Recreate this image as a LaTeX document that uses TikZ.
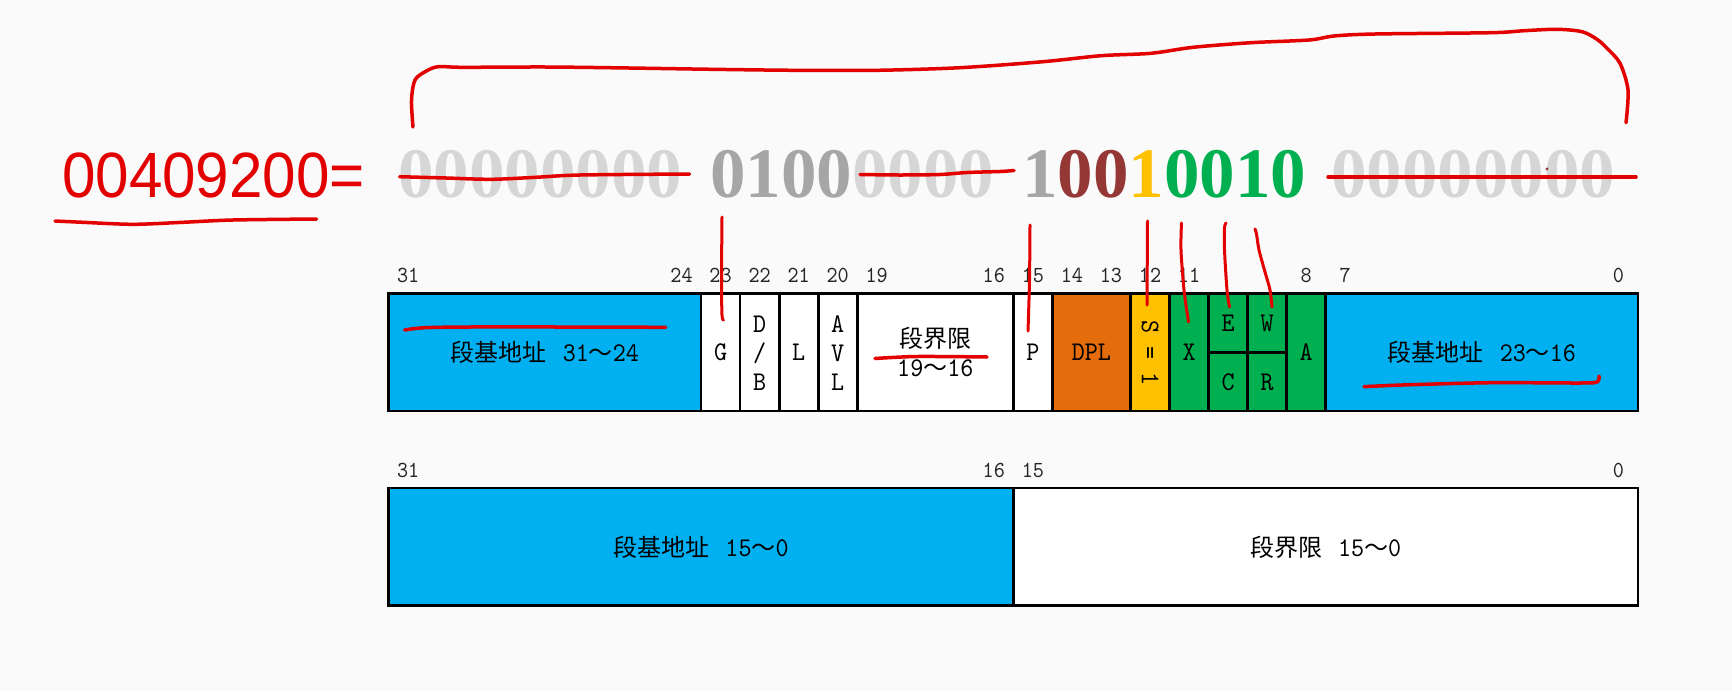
\documentclass[tikz,border=0pt]{standalone}
\usepackage{fontspec}
\setmainfont{Liberation Serif}
\newfontfamily\cjk{Noto Sans CJK SC}
\newfontfamily\cellf[FakeStretch=0.92]{lmmono10-regular.otf}
\newfontfamily\hexf[FakeStretch=0.94]{Liberation Sans}
\newcommand\cjkfont{\cjk\fontsize{24}{30}\selectfont}
\newcommand\numfont{\cellf\fontsize{27}{30}\selectfont}
\newcommand\bitrange[2]{{\numfont #1}{\cjkfont ～}{\numfont #2}}

\definecolor{paper}{HTML}{FAFAFA}
\definecolor{segblue}{HTML}{00B0F0}
\definecolor{dplorange}{HTML}{E46C0A}
\definecolor{sysyellow}{HTML}{FFC000}
\definecolor{typegreen}{HTML}{00B050}
\definecolor{pengray}{HTML}{A6A6A6}
\definecolor{offgray}{HTML}{D6D6D6}
\definecolor{dplred}{HTML}{953735}
\definecolor{inkred}{HTML}{E20000}

\tikzstyle{field} = [draw=black, line width=2.8pt]
\tikzstyle{bitno} = [anchor=base, inner sep=0pt, text=black!85, font=\cellf\fontsize{23}{23}\selectfont]
\tikzstyle{flag} = [inner sep=0pt, align=center, font=\cellf\fontsize{27}{29}\selectfont]
\tikzstyle{bits} = [anchor=base west, inner sep=0pt, font=\bfseries\fontsize{71}{71}\selectfont]
\tikzstyle{ink} = [draw=inkred, line width=3.5pt, line cap=round, line join=round]

\begin{document}
\begin{tikzpicture}[x=1pt, y=-1pt]
\useasboundingbox (0,0) rectangle (1732,691);
\fill[paper] (0,0) rectangle (1732,691);

% the value and its 32 bits
\node[anchor=base west, inner sep=0pt, text=inkred, font=\hexf\fontsize{64}{64}\selectfont] (hexval) at (62,197) {00409200=};
\node[bits, text=offgray] (bitsA) at (398,197) {00000000};
\node[bits] (bitsB) at (710,197) {\textcolor{pengray}{0100}\textcolor{offgray}{0000}};
\node[bits] (bitsC) at (1022,197) {\textcolor{pengray}{1}\textcolor{dplred}{00}\textcolor{sysyellow}{1}\textcolor{typegreen}{0010}};
\node[bits, text=offgray] (bitsD) at (1331,197) {00000000};

% descriptor, one unit per bit
\begin{scope}[x=-39.04pt, shift={(1638pt,0pt)}]
\filldraw[field, fill=segblue] (32,293.8) rectangle (24,411);
\filldraw[field, fill=white] (24,293.8) rectangle (23,411);
\filldraw[field, fill=white] (23,293.8) rectangle (22,411);
\filldraw[field, fill=white] (22,293.8) rectangle (21,411);
\filldraw[field, fill=white] (21,293.8) rectangle (20,411);
\filldraw[field, fill=white] (20,293.8) rectangle (16,411);
\filldraw[field, fill=white] (16,293.8) rectangle (15,411);
\filldraw[field, fill=dplorange] (15,293.8) rectangle (13,411);
\filldraw[field, fill=sysyellow] (13,293.8) rectangle (12,411);
\filldraw[field, fill=typegreen] (12,293.8) rectangle (11,411);
\filldraw[field, fill=typegreen] (11,293.8) rectangle (10,411);
\filldraw[field, fill=typegreen] (10,293.8) rectangle (9,411);
\filldraw[field, fill=typegreen] (9,293.8) rectangle (8,411);
\filldraw[field, fill=segblue] (8,293.8) rectangle (0,411);
\draw[field] (11,352.4) -- (9,352.4);

\foreach \b in {31,24,23,22,21,20,19,16,15,14,13,12,11,8,7,0}
  \node[bitno] (hi\b) at (\b+0.5,282.5) {\b};

\node (basehi) at (28,352.4) {\cjkfont 段基地址\hspace{16pt}\bitrange{31}{24}};
\node[flag] (g) at (23.5,352.4) {G};
\node[flag] (db) at (22.5,353) {D\\/\\B};
\node[flag] (l) at (21.5,352.4) {L};
\node[flag] (avl) at (20.5,353) {A\\V\\L};
\node (limhi) at (18,338) {\cjkfont 段界限};
\node (limhino) at (18,368) {\bitrange{19}{16}};
\node[flag] (p) at (15.5,352.4) {P};
\node[flag] (dpl) at (14,352.4) {DPL};
\node[flag, rotate=-90] (s) at (12.5,353) {S = 1};
\node[flag] (x) at (11.5,352.4) {X};
\node[flag] (e) at (10.5,323) {E};
\node[flag] (c) at (10.5,382) {C};
\node[flag] (w) at (9.5,323) {W};
\node[flag] (r) at (9.5,382) {R};
\node[flag] (a) at (8.5,352.4) {A};
\node (basemid) at (4,352.4) {\cjkfont 段基地址\hspace{16pt}\bitrange{23}{16}};

% low dword
\filldraw[field, fill=segblue] (32,488) rectangle (16,605.5);
\filldraw[field, fill=white] (16,488) rectangle (0,605.5);
\foreach \b in {31,16,15,0}
  \node[bitno] (lo\b) at (\b+0.5,477) {\b};
\node (baselo) at (24,547) {\cjkfont 段基地址\hspace{16pt}\bitrange{15}{0}};
\node (limlo) at (8,547) {\cjkfont 段界限\hspace{16pt}\bitrange{15}{0}};
\end{scope}

% hand marks
\draw[ink] plot[smooth] coordinates {(413,127) (411.5,100) (415,80) (425.5,71.5) (438,66.7) (463,67.3) (546,67) (629,68) (712,69.3) (795,70.3) (877.5,70.3) (960,67.7) (1043,61.7) (1101,55.7) (1151,53.3) (1193,47.3) (1251,42.7) (1309,40) (1334,36) (1375,34) (1491,32.7) (1524,30.7) (1557,29.3) (1582,31.7) (1597,39.3) (1607,48.3) (1620,63.3) (1628,90) (1626,122.7)};
\draw[ink] plot[smooth] coordinates {(55,221) (83,222.3) (133,224.3) (183,222.3) (233,220) (316.7,219)};
\draw[ink] plot[smooth] coordinates {(399.6,176.7) (446,178) (491,179.3) (535.7,177.3) (580,175) (689.7,174)};
\draw[ink] plot[smooth] coordinates {(860,174.5) (900,175) (940,174.5) (967,172.5) (1000,171.5) (1014,170.5)};
\draw[ink] (1328,177) -- (1636,177);
\fill[dplred] (1547,169) circle[radius=1.6pt];
\draw[ink, line width=3pt] plot[smooth] coordinates {(722,217) (721.5,280) (722,315) (723.5,320)};
\draw[ink, line width=3pt] plot[smooth] coordinates {(1030,225) (1029.5,280) (1028,331)};
\draw[ink, line width=3pt] (1147.5,221) -- (1147,305);
\draw[ink, line width=3pt] plot[smooth] coordinates {(1181.5,223) (1181,250) (1184,290) (1188.5,322)};
\draw[ink, line width=3pt] plot[smooth] coordinates {(1226,223) (1224.5,228) (1224.5,250) (1227,290) (1229.5,307)};
\draw[ink, line width=3pt] plot[smooth] coordinates {(1255,229) (1256.5,234) (1259,250) (1265,272) (1270,290) (1272,307)};
\draw[ink] plot[smooth] coordinates {(404.6,330) (424.6,327.7) (469.3,327) (558.6,327) (665.7,327.3)};
\draw[ink] plot[smooth] coordinates {(875,358.5) (917,356.5) (987,357)};
\draw[ink] plot[smooth] coordinates {(1364,386.7) (1402,385) (1491,382.7) (1580,383) (1597,382) (1599,376)};
\end{tikzpicture}
\end{document}
